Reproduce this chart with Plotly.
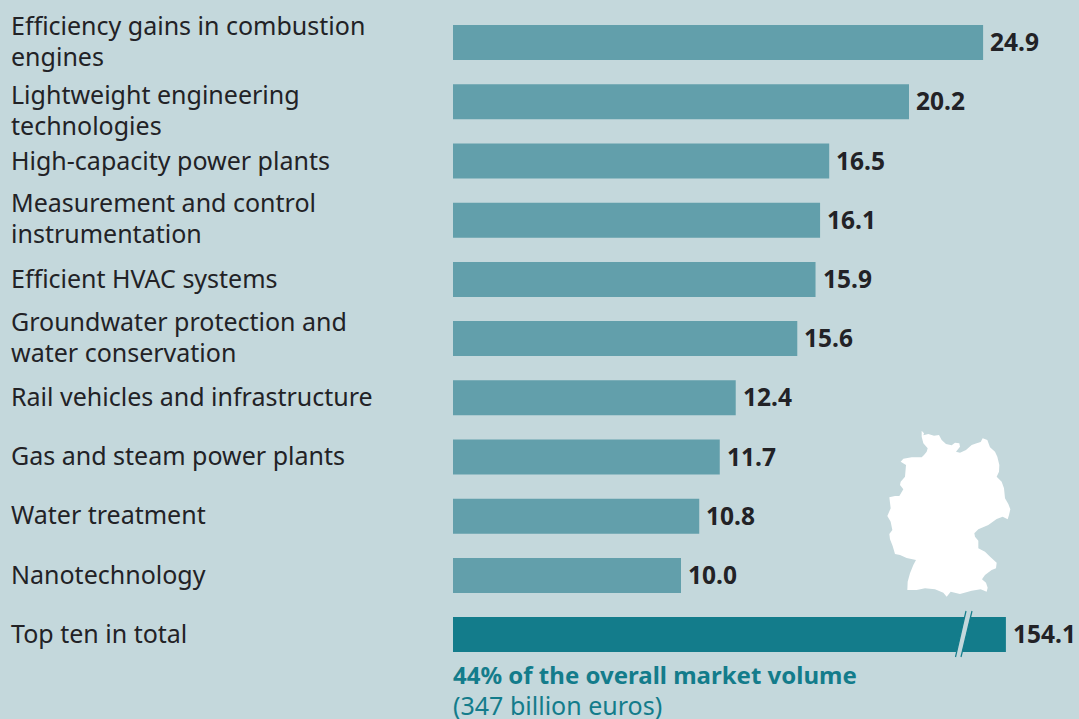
import plotly.graph_objects as go

W, H = 1079, 719
categories = ["Efficiency gains in combustion<br>engines", "Lightweight engineering<br>technologies",
              "High-capacity power plants", "Measurement and control<br>instrumentation",
              "Efficient HVAC systems", "Groundwater protection and<br>water conservation",
              "Rail vehicles and infrastructure", "Gas and steam power plants",
              "Water treatment", "Nanotechnology", "Top ten in total"]
value_labels = ["24.9", "20.2", "16.5", "16.1", "15.9", "15.6", "12.4", "11.7", "10.8", "10.0", "154.1"]
# Bar lengths as drawn in the picture (the original is not strictly to scale; the total bar is broken)
bar_lengths = [23.25, 20.0, 16.5, 16.1, 15.9, 15.1, 12.4, 11.7, 10.8, 10.0, 24.25]
bar_colors = ["#629fab"] * 10 + ["#137c8b"]

BG, DARK, TEAL = "#c4d8dc", "#222226", "#137c8b"
FONT = "Noto Sans"
X0, PX_PER_UNIT = 453, 22.8
BAND, TOP = 59.2, 13
# Small vertical nudge of each row's label, in pixels (upwards)
label_nudge = [2, -8, 1, 2.5, 1.5, 2, 2, 2, 2, 1, 2]

# Decorative map silhouette (pixels of a 3x crop)
germany = [(185,32),(192,40),(190,46),(205,42),(222,47),(237,45),(245,60),(258,72),(275,76),(285,68),(298,70),(300,80),
           (288,95),(300,98),(318,90),(335,75),(350,70),(362,66),(368,55),(382,60),(390,82),(405,95),(412,110),(418,135),
           (417,155),(410,170),(425,185),(432,205),(435,235),(445,252),(451,268),(447,285),(443,298),(428,290),(410,297),
           (385,315),(355,328),(343,340),(345,350),(355,362),(355,385),(375,395),(392,412),(410,428),(408,445),(395,450),
           (375,465),(366,478),(378,488),(383,503),(380,515),(362,508),(335,512),(300,522),(272,515),(260,530),(250,518),
           (225,508),(195,505),(170,510),(142,510),(143,485),(150,460),(160,435),(168,420),(140,414),(120,405),(105,402),
           (98,378),(90,358),(88,342),(97,330),(92,305),(82,288),(92,265),(88,232),(105,228),(118,228),(130,208),(120,195),
           (122,185),(135,170),(138,135),(122,125),(130,116),(155,112),(185,112),(192,105),(200,95),(203,85),(190,70),(185,50)]

def px(x, y):
    return f"{x / W:.5f} {1 - y / H:.5f}"

germany_path = "M" + "L".join(px(860 + x / 3, 420 + y / 3) for x, y in germany) + "Z"

fig = go.Figure(go.Bar(x=bar_lengths, y=categories, orientation="h", marker=dict(color=bar_colors, line_width=0),
                       width=35 / BAND, hoverinfo="skip"))

annotations = []
for c, v, l, nudge in zip(categories, value_labels, bar_lengths, label_nudge):
    annotations.append(dict(x=l, y=c, text=f"<b>{v}</b>", xref="x", yref="y", xanchor="left", yanchor="middle", xshift=5,
                            yshift=1, showarrow=False, font=dict(family=FONT, size=24.5, color=DARK)))
    lines = c.split("<br>")
    for j, line in enumerate(lines):
        annotations.append(dict(x=9 / W, xref="paper", y=c, yref="y", text=line, xanchor="left", yanchor="middle",
                                align="left", yshift=(len(lines) - 1) * 15.5 - j * 31 + nudge, showarrow=False,
                                font=dict(family=FONT, size=25, color=DARK)))
annotations.append(dict(x=(X0 - 2) / W, xref="paper", y=1 - 690 / H, yref="paper",
                        text='<b>44% of the overall market volume</b><br><span style="font-size:25px">(347 billion euros)</span>',
                        xanchor="left", yanchor="middle", align="left", showarrow=False,
                        font=dict(family=FONT, size=24, color=TEAL)))

shapes = [
    dict(type="path", xref="paper", yref="paper", path=germany_path, fillcolor="white", line_width=0),
    dict(type="path", xref="paper", yref="paper",
         path="M" + px(955.5, 657) + "L" + px(966, 611) + "L" + px(972, 611) + "L" + px(961, 657) + "Z",
         fillcolor=BG, line_width=0),
    dict(type="path", xref="paper", yref="paper", path="M" + px(955.5, 657) + "L" + px(966, 611), line=dict(color=TEAL, width=1.2)),
    dict(type="path", xref="paper", yref="paper", path="M" + px(961, 657) + "L" + px(972, 611), line=dict(color=TEAL, width=1.2)),
]

fig.update_layout(
    width=W, height=H, margin=dict(l=0, r=0, t=0, b=0), paper_bgcolor=BG, plot_bgcolor=BG, showlegend=False,
    xaxis=dict(range=[-X0 / PX_PER_UNIT, (W - X0) / PX_PER_UNIT], visible=False, fixedrange=True),
    yaxis=dict(type="category", categoryorder="array", categoryarray=categories, visible=False, fixedrange=True,
               range=[(H - TOP) / BAND - 0.5, -0.5 - TOP / BAND]),
    annotations=annotations, shapes=shapes,
)
fig.write_html("out.html", config=dict(displayModeBar=False),
               post_script="document.body.style.margin='0';document.body.style.background='#c4d8dc';document.body.style.overflow='hidden';")
